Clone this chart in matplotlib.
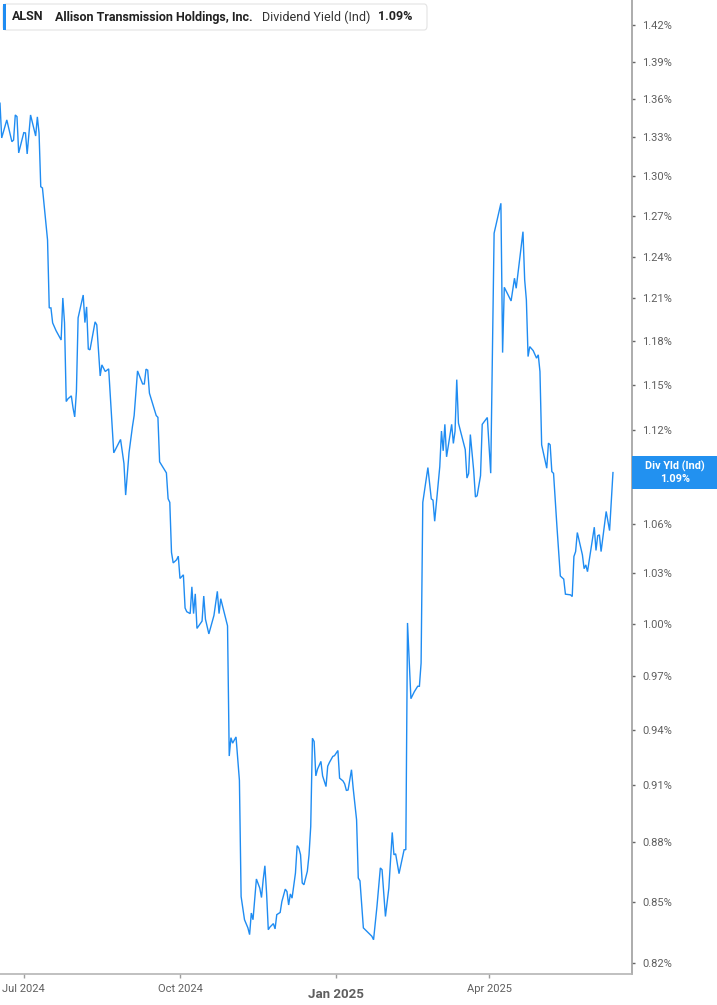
import matplotlib
matplotlib.use("Agg")
import matplotlib.pyplot as plt
from matplotlib.patches import FancyBboxPatch, Rectangle
import matplotlib.dates as mdates
import pandas as pd

plt.rcParams['font.family'] = ['Roboto', 'DejaVu Sans']

# ---------------- data ----------------
dates = [
    "2024-06-17", "2024-06-18", "2024-06-21", "2024-06-24", "2024-06-25", "2024-06-26", "2024-06-27", "2024-06-28",
    "2024-07-01", "2024-07-02", "2024-07-03", "2024-07-05", "2024-07-08", "2024-07-09", "2024-07-10", "2024-07-11",
    "2024-07-12", "2024-07-15", "2024-07-16", "2024-07-17", "2024-07-18", "2024-07-20", "2024-07-23", "2024-07-24",
    "2024-07-25", "2024-07-26", "2024-07-27", "2024-07-29", "2024-07-30", "2024-07-31", "2024-08-01", "2024-08-02",
    "2024-08-05", "2024-08-06", "2024-08-07", "2024-08-08", "2024-08-09", "2024-08-12", "2024-08-13", "2024-08-15",
    "2024-08-16", "2024-08-18", "2024-08-20", "2024-08-23", "2024-08-27", "2024-08-29", "2024-08-30", "2024-09-01",
    "2024-09-03", "2024-09-04", "2024-09-06", "2024-09-09", "2024-09-10", "2024-09-11", "2024-09-12", "2024-09-13",
    "2024-09-15", "2024-09-17", "2024-09-18", "2024-09-19", "2024-09-21", "2024-09-23", "2024-09-24", "2024-09-25",
    "2024-09-26", "2024-09-27", "2024-09-29", "2024-09-30", "2024-10-01", "2024-10-03", "2024-10-04", "2024-10-05",
    "2024-10-07", "2024-10-08", "2024-10-09", "2024-10-10", "2024-10-11", "2024-10-13", "2024-10-14", "2024-10-15",
    "2024-10-16", "2024-10-18", "2024-10-21", "2024-10-23", "2024-10-24", "2024-10-25", "2024-10-29", "2024-10-30",
    "2024-10-31", "2024-11-01", "2024-11-03", "2024-11-05", "2024-11-06", "2024-11-08", "2024-11-10", "2024-11-11",
    "2024-11-12", "2024-11-13", "2024-11-15", "2024-11-17", "2024-11-18", "2024-11-19", "2024-11-20", "2024-11-21",
    "2024-11-22", "2024-11-23", "2024-11-25", "2024-11-26", "2024-11-27", "2024-11-29", "2024-11-30", "2024-12-02",
    "2024-12-03", "2024-12-04", "2024-12-05", "2024-12-06", "2024-12-08", "2024-12-09", "2024-12-10", "2024-12-11",
    "2024-12-12", "2024-12-13", "2024-12-15", "2024-12-16", "2024-12-17", "2024-12-18", "2024-12-19", "2024-12-20",
    "2024-12-21", "2024-12-23", "2024-12-24", "2024-12-26", "2024-12-27", "2024-12-28", "2024-12-30", "2024-12-31",
    "2025-01-02", "2025-01-03", "2025-01-05", "2025-01-06", "2025-01-07", "2025-01-08", "2025-01-10", "2025-01-11",
    "2025-01-13", "2025-01-14", "2025-01-15", "2025-01-17", "2025-01-20", "2025-01-22", "2025-01-23", "2025-01-25",
    "2025-01-27", "2025-01-28", "2025-01-30", "2025-02-01", "2025-02-03", "2025-02-04", "2025-02-05", "2025-02-07",
    "2025-02-10", "2025-02-11", "2025-02-12", "2025-02-14", "2025-02-16", "2025-02-18", "2025-02-19", "2025-02-20",
    "2025-02-21", "2025-02-24", "2025-02-26", "2025-02-27", "2025-02-28", "2025-03-03", "2025-03-04", "2025-03-05",
    "2025-03-06", "2025-03-07", "2025-03-10", "2025-03-11", "2025-03-12", "2025-03-13", "2025-03-14", "2025-03-18",
    "2025-03-19", "2025-03-20", "2025-03-21", "2025-03-23", "2025-03-24", "2025-03-25", "2025-03-27", "2025-03-28",
    "2025-03-31", "2025-04-02", "2025-04-04", "2025-04-08", "2025-04-09", "2025-04-10", "2025-04-14", "2025-04-16",
    "2025-04-17", "2025-04-21", "2025-04-22", "2025-04-23", "2025-04-24", "2025-04-25", "2025-04-27", "2025-04-29",
    "2025-04-30", "2025-05-01", "2025-05-02", "2025-05-05", "2025-05-06", "2025-05-07", "2025-05-08", "2025-05-09",
    "2025-05-11", "2025-05-13", "2025-05-15", "2025-05-16", "2025-05-19", "2025-05-20", "2025-05-21", "2025-05-22",
    "2025-05-23", "2025-05-26", "2025-05-27", "2025-05-28", "2025-05-29", "2025-05-31", "2025-06-02", "2025-06-03",
    "2025-06-04", "2025-06-05", "2025-06-06", "2025-06-09", "2025-06-11", "2025-06-13",
]

yield_pct = [
    1.3565, 1.3292, 1.3433, 1.3263, 1.3276, 1.3472, 1.3459, 1.3176,
    1.3333, 1.3331, 1.3168, 1.3472, 1.3307, 1.3457, 1.3331, 1.2918,
    1.2908, 1.2521, 1.2033, 1.2033, 1.1928, 1.1874, 1.1809, 1.2103,
    1.1928, 1.1391, 1.1409, 1.1429, 1.1349, 1.1289, 1.1457, 1.1963,
    1.2124, 1.1930, 1.2040, 1.1747, 1.1741, 1.1935, 1.1914, 1.1563,
    1.1638, 1.1593, 1.1611, 1.1054, 1.1141, 1.0985, 1.0784, 1.1056,
    1.1225, 1.1298, 1.1597, 1.1509, 1.1509, 1.1609, 1.1602, 1.1447,
    1.1373, 1.1298, 1.1286, 1.0996, 1.0961, 1.0925, 1.0761, 1.0738,
    1.0428, 1.0364, 1.0383, 1.0405, 1.0270, 1.0292, 1.0094, 1.0072,
    1.0061, 1.0220, 1.0061, 1.0178, 0.9974, 1.0002, 1.0017, 1.0165,
    1.0028, 0.9942, 1.0050, 1.0193, 1.0061, 1.0149, 0.9989, 0.9256,
    0.9356, 0.9326, 0.9360, 0.9125, 0.8525, 0.8410, 0.8370, 0.8337,
    0.8443, 0.8410, 0.8613, 0.8567, 0.8520, 0.8609, 0.8680, 0.8542,
    0.8361, 0.8374, 0.8391, 0.8365, 0.8435, 0.8446, 0.8500, 0.8562,
    0.8550, 0.8483, 0.8538, 0.8517, 0.8643, 0.8783, 0.8770, 0.8736,
    0.8593, 0.8584, 0.8652, 0.8736, 0.8882, 0.9353, 0.9335, 0.9149,
    0.9185, 0.9227, 0.9149, 0.9092, 0.9201, 0.9221, 0.9254, 0.9258,
    0.9286, 0.9137, 0.9122, 0.9106, 0.9071, 0.9074, 0.9182, 0.9083,
    0.8917, 0.8618, 0.8604, 0.8370, 0.8345, 0.8329, 0.8312, 0.8475,
    0.8669, 0.8660, 0.8426, 0.8567, 0.8851, 0.8736, 0.8741, 0.8640,
    0.8762, 0.8762, 1.0006, 0.9572, 0.9611, 0.9642, 0.9642, 0.9774,
    1.0738, 1.0959, 1.0760, 1.0752, 1.0620, 1.0965, 1.1196, 1.1067,
    1.1240, 1.1028, 1.1240, 1.1115, 1.1196, 1.1538, 1.1248, 1.1075,
    1.0892, 1.0921, 1.1173, 1.0936, 1.0772, 1.0780, 1.0907, 1.1240,
    1.1285, 1.0923, 1.2571, 1.2793, 1.1722, 1.2179, 1.2082, 1.2244,
    1.2172, 1.2582, 1.2232, 1.2089, 1.1695, 1.1763, 1.1736, 1.1684,
    1.1707, 1.1593, 1.1106, 1.0955, 1.1117, 1.1106, 1.0933, 1.0922,
    1.0587, 1.0285, 1.0266, 1.0176, 1.0172, 1.0162, 1.0403, 1.0433,
    1.0550, 1.0413, 1.0329, 1.0352, 1.0311, 1.0444, 1.0583, 1.0440,
    1.0530, 1.0536, 1.0433, 1.0681, 1.0562, 1.0927,
]

ticker = "ALSN"
company = "Allison Transmission Holdings, Inc."
metric = "Dividend Yield (Ind)"
badge_title = "Div Yld (Ind)"
y_ticks = [0.82, 0.85, 0.88, 0.91, 0.94, 0.97, 1.00, 1.03, 1.06, 1.09, 1.12,
           1.15, 1.18, 1.21, 1.24, 1.27, 1.30, 1.33, 1.36, 1.39, 1.42]
x_ticks = ["2024-07-01", "2024-10-01", "2025-01-01", "2025-04-01"]
x_tick_labels = ["Jul 2024", "Oct 2024", "Jan 2025", "Apr 2025"]

# ---------------- styling ----------------
LINE = "#1f8cf2"
BADGE = "#2291f0"
AXIS = "#9e9e9e"
TXT = "#5f5f5f"
W, H = 717, 1005

fig = plt.figure(figsize=(W / 100, H / 100), dpi=100)
fig.patch.set_facecolor("white")
ax = fig.add_axes([0, 31 / H, 632 / W, 974 / H])

d = pd.to_datetime(dates)
ax.plot(d, yield_pct, color=LINE, lw=1.0, solid_joinstyle="miter")

ax.set_yscale("log")
ax.set_ylim(0.8147, 1.441)
ax.set_xlim(pd.Timestamp("2024-06-17"), pd.Timestamp("2025-06-24 05:00"))
ax.set_yticks(y_ticks)
ax.set_yticklabels([f"{v:.2f}%" for v in y_ticks])
ax.minorticks_off()
ax.yaxis.tick_right()
ax.tick_params(axis="y", direction="out", length=2.5, width=1, color="#666666",
               labelsize=8, labelcolor=TXT, pad=5)

ax.set_xticks(pd.to_datetime(x_ticks))
ax.set_xticklabels(x_tick_labels)
ax.tick_params(axis="x", direction="out", length=3, width=1, color="#9e9e9e",
               labelsize=8, labelcolor=TXT, pad=4)
for lbl in ax.get_xticklabels():
    if lbl.get_text().startswith("Jan"):
        lbl.set_fontweight("bold")
        lbl.set_fontsize(9.5)
        lbl.set_y(-0.004)

for s in ["left", "top"]:
    ax.spines[s].set_visible(False)
ax.spines["right"].set_color(AXIS)
ax.spines["right"].set_linewidth(1.2)
ax.spines["bottom"].set_color("#b5b5b5")
ax.spines["bottom"].set_linewidth(1.2)
ax.set_facecolor("white")


def fx(x):
    return x / W


def fy(y):
    return 1 - y / H


# ---------------- legend header ----------------
hdr = FancyBboxPatch((fx(3), fy(30)), fx(424), 26 / H,
                     boxstyle="round,pad=0,rounding_size=0.004",
                     transform=fig.transFigure, facecolor="white",
                     edgecolor="#e3e3e3", lw=0.8, zorder=5)
fig.patches.append(hdr)
fig.patches.append(Rectangle((fx(3), fy(30)), 3 / W, 26 / H, transform=fig.transFigure,
                             facecolor=LINE, edgecolor="none", zorder=6))
ty = fy(17)
fig.text(fx(12), ty, ticker, fontsize=9, fontweight="bold", color="#222222", va="center", zorder=7)
fig.text(fx(55), ty, company, fontsize=9, fontweight="bold", color="#222222", va="center", zorder=7)
fig.text(fx(262), ty, metric, fontsize=9, color="#333333", va="center", zorder=7)
fig.text(fx(378), ty, f"{yield_pct[-1]:.2f}%", fontsize=9, fontweight="bold",
         color="#222222", va="center", zorder=7)

# ---------------- last value badge ----------------
fig.canvas.draw()
last_disp = ax.transData.transform((mdates.date2num(d[-1]), yield_pct[-1]))
cy = last_disp[1]  # display pixels from bottom
bh = 33

# the badge covers the tick label beneath it (as in the reference)
for val, lbl in zip(y_ticks, ax.get_yticklabels()):
    ty_disp = ax.transData.transform((0, val))[1]
    if abs(ty_disp - cy) < bh / 2 + 4:
        lbl.set_visible(False)

fig.patches.append(Rectangle((632 / W, (cy - bh / 2) / H), (W - 632) / W, bh / H,
                             transform=fig.transFigure, facecolor=BADGE,
                             edgecolor="none", zorder=8))
fig.text((632 + 43) / W, (cy + 6) / H, badge_title, fontsize=7.8, fontweight="bold",
         color="white", ha="center", va="center", zorder=9)
fig.text((632 + 43) / W, (cy - 6) / H, f"{yield_pct[-1]:.2f}%", fontsize=7.8,
         fontweight="bold", color="white", ha="center", va="center", zorder=9)

fig.savefig("out.png", dpi=100, facecolor="white")
